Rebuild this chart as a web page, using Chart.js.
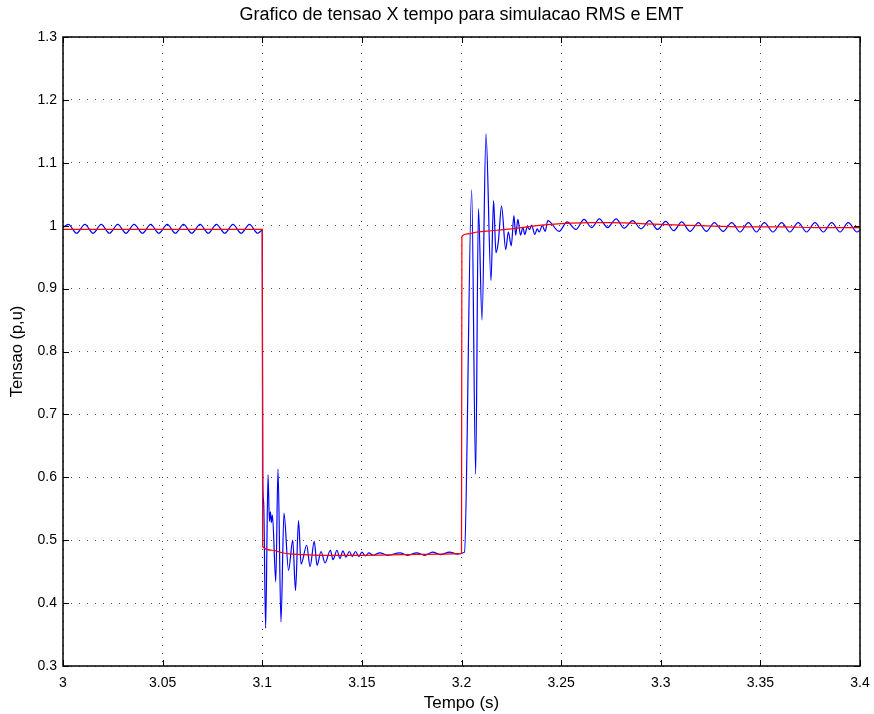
<!DOCTYPE html>
<html>
<head>
<meta charset="utf-8">
<script src="https://cdn.jsdelivr.net/npm/chart.js@4/dist/chart.umd.min.js"></script>
<style>
  html, body { margin: 0; padding: 0; background: #fff; }
  #wrap { width: 874px; height: 714px; }
</style>
</head>
<body>
<div id="wrap"><canvas id="plot" width="874" height="714"></canvas></div>
<script>
// ---- EMT simulation (blue) ----
const emtTime = [
  3.0000, 3.0027, 3.0068, 3.0110, 3.0151, 3.0192, 3.0233, 3.0275, 3.0316, 3.0357,
  3.0399, 3.0440, 3.0481, 3.0523, 3.0564, 3.0605, 3.0646, 3.0688, 3.0729, 3.0770,
  3.0812, 3.0853, 3.0894, 3.0936, 3.0977, 3.0995, 3.1000,
  3.1003, 3.1007, 3.1017, 3.1029, 3.1036, 3.1041, 3.1046, 3.1051, 3.1068, 3.1079,
  3.1094, 3.1109, 3.1132, 3.1153, 3.1167, 3.1182, 3.1195, 3.1223, 3.1240, 3.1261,
  3.1275, 3.1295, 3.1315, 3.1342, 3.1355, 3.1375, 3.1390, 3.1405, 3.1420, 3.1437,
  3.1452, 3.1468, 3.1485, 3.1500, 3.1518, 3.1535, 3.1555, 3.1590, 3.1630, 3.1690,
  3.1730, 3.1775, 3.1815, 3.1855, 3.1895, 3.1940, 3.1980, 3.2015,
  3.2051, 3.2071, 3.2085, 3.2103, 3.2123, 3.2148, 3.2161, 3.2173, 3.2185, 3.2201,
  3.2222, 3.2235, 3.2250, 3.2263, 3.2272, 3.2283, 3.2296, 3.2308, 3.2318, 3.2330,
  3.2342, 3.2352, 3.2368, 3.2380, 3.2390, 3.2405, 3.2420, 3.2433, 3.2490, 3.2530,
  3.2574, 3.2615, 3.2653, 3.2692, 3.2733, 3.2776, 3.2816, 3.2859, 3.2901, 3.2943,
  3.2984, 3.3025, 3.3065, 3.3105, 3.3147, 3.3189, 3.3229, 3.3269, 3.3313, 3.3356,
  3.3398, 3.3440, 3.3480, 3.3520, 3.3563, 3.3607, 3.3648, 3.3690, 3.3732, 3.3774,
  3.3816, 3.3858, 3.3900, 3.3941, 3.3985, 3.4000
];
const emtVolt = [
  0.997, 1.002, 0.988, 1.002, 0.988, 1.002, 0.988, 1.002, 0.988, 1.002,
  0.988, 1.002, 0.988, 1.002, 0.988, 1.002, 0.988, 1.002, 0.988, 1.002,
  0.988, 1.002, 0.988, 1.002, 0.988, 0.992, 0.993,
  0.590, 0.560, 0.360, 0.604, 0.530, 0.545, 0.528, 0.540, 0.434, 0.613,
  0.370, 0.543, 0.452, 0.500, 0.420, 0.531, 0.462, 0.492, 0.458, 0.498,
  0.460, 0.482, 0.464, 0.484, 0.469, 0.484, 0.471, 0.483, 0.473, 0.482,
  0.474, 0.482, 0.474, 0.481, 0.475, 0.480, 0.476, 0.480, 0.476, 0.480,
  0.476, 0.480, 0.476, 0.481, 0.477, 0.481, 0.478, 0.481,
  1.057, 0.605, 1.027, 0.850, 1.146, 0.913, 1.040, 0.957, 0.975, 1.031,
  0.962, 0.990, 0.968, 1.016, 0.985, 1.010, 0.985, 0.997, 0.986, 0.998,
  0.994, 1.001, 0.986, 0.995, 0.990, 1.000, 0.991, 1.008, 0.991, 1.006,
  0.994, 1.010, 0.997, 1.011, 0.997, 1.011, 0.996, 1.008, 0.995, 1.008,
  0.994, 1.007, 0.992, 1.006, 0.991, 1.005, 0.991, 1.005, 0.991, 1.005,
  0.990, 1.005, 0.990, 1.005, 0.990, 1.005, 0.990, 1.005, 0.990, 1.005,
  0.990, 1.005, 0.990, 1.005, 0.990, 0.993
];

// ---- RMS simulation (red) ----
const rmsTime = [
  3.0000, 3.1000, 3.1002, 3.1050, 3.1100, 3.1150, 3.1200, 3.1300, 3.1500, 3.1700,
  3.1900, 3.2000, 3.2002, 3.2030, 3.2080, 3.2150, 3.2250, 3.2350, 3.2450, 3.2550,
  3.2650, 3.2750, 3.2850, 3.3000, 3.3200, 3.3400, 3.3600, 3.3800, 3.4000
];
const rmsVolt = [
  0.994, 0.994, 0.490, 0.484, 0.480, 0.478, 0.477, 0.476, 0.476, 0.477,
  0.478, 0.479, 0.983, 0.987, 0.990, 0.992, 0.995, 0.999, 1.002, 1.004,
  1.005, 1.005, 1.004, 1.002, 1.000, 0.998, 0.998, 0.997, 0.997
];

// ---- axes ----
const xTicks = [3, 3.05, 3.1, 3.15, 3.2, 3.25, 3.3, 3.35, 3.4];
const yTicks = [0.3, 0.4, 0.5, 0.6, 0.7, 0.8, 0.9, 1, 1.1, 1.2, 1.3];

const toPoints = (xs, ys) => xs.map((t, i) => ({ x: t, y: ys[i] }));

Chart.defaults.font.family = "'Liberation Sans', Arial, sans-serif";
Chart.defaults.font.size = 14;
Chart.defaults.color = "#000";

// MATLAB-like box with inward tick marks
const boxFrame = {
  id: "boxFrame",
  afterDatasetsDraw(chart) {
    const { ctx, chartArea: a, scales: { x, y } } = chart;
    ctx.save();
    ctx.strokeStyle = "#000";
    ctx.lineWidth = 1;
    ctx.beginPath();
    xTicks.forEach(v => {
      const px = Math.round(x.getPixelForValue(v)) + 0.5;
      ctx.moveTo(px, a.bottom); ctx.lineTo(px, a.bottom - 6);
      ctx.moveTo(px, a.top); ctx.lineTo(px, a.top + 6);
    });
    yTicks.forEach(v => {
      const py = Math.round(y.getPixelForValue(v)) + 0.5;
      ctx.moveTo(a.left, py); ctx.lineTo(a.left + 6, py);
      ctx.moveTo(a.right, py); ctx.lineTo(a.right - 6, py);
    });
    ctx.stroke();
    ctx.lineWidth = 1.5;
    ctx.strokeRect(a.left, a.top, a.right - a.left, a.bottom - a.top);
    ctx.restore();
  }
};

new Chart(document.getElementById("plot"), {
  type: "line",
  data: {
    datasets: [
      {
        label: "RMS",
        data: toPoints(rmsTime, rmsVolt),
        borderColor: "#ff0000",
        borderWidth: 1.2,
        pointRadius: 0,
        cubicInterpolationMode: "monotone",
        fill: false
      },
      {
        label: "EMT",
        data: toPoints(emtTime, emtVolt),
        borderColor: "#0000ff",
        borderWidth: 1.2,
        pointRadius: 0,
        cubicInterpolationMode: "monotone",
        fill: false
      }
    ]
  },
  options: {
    responsive: false,
    animation: false,
    layout: { padding: { left: 0, right: 14, top: 0, bottom: 0 } },
    plugins: {
      legend: { display: false },
      tooltip: { enabled: false },
      title: {
        display: true,
        fullSize: false,
        text: "Grafico de tensao X tempo para simulacao RMS e EMT",
        font: { size: 18, weight: "normal" },
        padding: { top: 4.5, bottom: 10.9 }
      }
    },
    scales: {
      x: {
        type: "linear",
        min: 3,
        max: 3.4,
        afterBuildTicks: s => { s.ticks = xTicks.map(v => ({ value: v })); },
        afterFit: s => { s.height = 48; s.paddingLeft = 0; s.paddingRight = 0; },
        ticks: {
          padding: 9,
          maxRotation: 0,
          callback: v => String(parseFloat(v.toFixed(2)))
        },
        grid: { color: "rgba(0,0,0,0.7)", lineWidth: 1, drawTicks: false },
        border: { display: false, dash: [1, 7] },
        title: {
          display: true,
          text: "Tempo (s)",
          font: { size: 17 },
          padding: { top: 0, bottom: 0 }
        }
      },
      y: {
        type: "linear",
        min: 0.3,
        max: 1.3,
        afterBuildTicks: s => { s.ticks = yTicks.map(v => ({ value: v })); },
        afterFit: s => { s.width = 63; },
        ticks: {
          padding: 6,
          callback: v => String(parseFloat(v.toFixed(1)))
        },
        grid: { color: "rgba(0,0,0,0.7)", lineWidth: 1, drawTicks: false },
        border: { display: false, dash: [1, 7] },
        title: {
          display: true,
          text: "Tensao (p,u)",
          font: { size: 16.5 },
          padding: { top: 8, bottom: 0 }
        }
      }
    }
  },
  plugins: [boxFrame]
});
</script>
</body>
</html>
